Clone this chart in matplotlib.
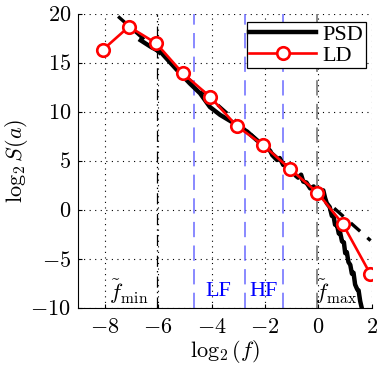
import matplotlib
matplotlib.use("Agg")
from matplotlib import pyplot as plt
from matplotlib.ticker import FuncFormatter

# LD estimates (log2 scale)
ld_x = [-8.07, -7.09, -6.07, -5.08, -4.06, -3.06, -2.06, -1.06, -0.04, 0.91, 1.94]
ld_y = [16.33, 18.70, 17.00, 13.95, 11.56, 8.57, 6.60, 4.18, 1.77, -1.43, -6.53]

# PSD
psd_x = [-6.65, -6.25, -5.90, -5.30, -4.81, -4.43, -4.06, -3.68, -3.19, -2.67, -2.30,
         -1.92, -1.80, -1.73, -1.55, -1.45, -1.32, -1.15, -0.99, -0.85, -0.76, -0.65,
         -0.57, -0.45, -0.31, -0.18, -0.05, 0.05, 0.18, 0.25, 0.31, 0.42, 0.50, 0.55,
         0.62, 0.70, 0.76, 0.81, 0.88, 0.95, 1.00, 1.06, 1.12, 1.19, 1.25, 1.31, 1.37,
         1.45, 1.50, 1.56, 1.62]
psd_y = [17.3, 16.6, 16.1, 14.3, 12.9, 11.9, 10.5, 9.7, 8.9, 8.0, 7.1,
         6.4, 6.0, 5.6, 5.1, 5.3, 4.6, 4.5, 4.1, 3.5, 3.3, 3.6,
         2.9, 2.8, 2.2, 2.4, 1.7, 1.9, 2.0, 1.2, 0.7, 0.3, -0.6, -0.4,
         -1.5, -1.6, -2.4, -2.3, -3.2, -3.3, -4.4, -4.3, -5.3, -5.6, -6.5, -6.4, -7.6,
         -8.1, -8.2, -9.3, -10.0]

# power-law fit (dashed)
fit_x = [-8.0, 1.95]
fit_y = [20.96, -3.12]

f_min = -6.05
f_max = -0.07
lf_hf = [-4.64, -2.74, -1.32]

plt.rcParams['font.family'] = ['Liberation Serif', 'DejaVu Serif']
plt.rcParams['mathtext.fontset'] = 'cm'
plt.rcParams['lines.scale_dashes'] = False

fig = plt.figure(figsize=(3.78, 3.65), dpi=100)
ax = fig.add_axes([0.206, 0.156, 0.778, 0.806])

ax.grid(True, linestyle=(0, (0.8, 3.2)), color='black', linewidth=0.8)

ax.axvline(f_min, color='black', linestyle=(0, (8, 3, 1, 3)), linewidth=0.9)
for v in lf_hf:
    ax.axvline(v, color='#6a6aff', linestyle=(0, (11, 6)), linewidth=1.1)
ax.axvline(f_max, color='#777777', linestyle=(0, (11, 6)), linewidth=1.2)

ax.plot(fit_x, fit_y, color='black', linestyle=(3, (9, 7)), linewidth=2.4)
ax.plot(psd_x, psd_y, color='black', linewidth=3.2, label='PSD')
ax.plot(ld_x, ld_y, color='red', linewidth=1.9, marker='o', markersize=9,
        markerfacecolor='white', markeredgewidth=1.9, label='LD')

ax.text(-7.1, -8.3, r'$\tilde{f}_{\min}$', fontsize=16, ha='center', va='center')
ax.text(-3.75, -8.3, 'LF', fontsize=16, color='blue', ha='center', va='center')
ax.text(-2.05, -8.3, 'HF', fontsize=16, color='blue', ha='center', va='center')
ax.text(0.65, -8.3, r'$\tilde{f}_{\max}$', fontsize=16, ha='center', va='center')

ax.set_xlim(-9, 2)
ax.set_ylim(-10, 20)
ax.set_xticks([-8, -6, -4, -2, 0, 2])
ax.set_yticks([-10, -5, 0, 5, 10, 15, 20])
fmt = FuncFormatter(lambda v, p: r'$%d$' % v)
ax.xaxis.set_major_formatter(fmt)
ax.yaxis.set_major_formatter(fmt)
ax.tick_params(direction='in', labelsize=16, length=3)
ax.tick_params(axis='x', pad=8)
ax.tick_params(axis='y', pad=5)
ax.spines['top'].set_visible(False)
ax.spines['right'].set_visible(False)

ax.set_xlabel(r'$\log_2(f)$', fontsize=16, labelpad=0)
ax.set_ylabel(r'$\log_2 S(a)$', fontsize=16, labelpad=0)

leg = ax.legend(loc='upper right', fontsize=16, fancybox=False, framealpha=1,
                edgecolor='black', handlelength=3.0, borderpad=0.12,
                labelspacing=0.0, handletextpad=0.3, borderaxespad=0,
                bbox_to_anchor=(0.98, 0.973))
leg.get_frame().set_linewidth(0.9)

plt.savefig('out.png', dpi=100)
